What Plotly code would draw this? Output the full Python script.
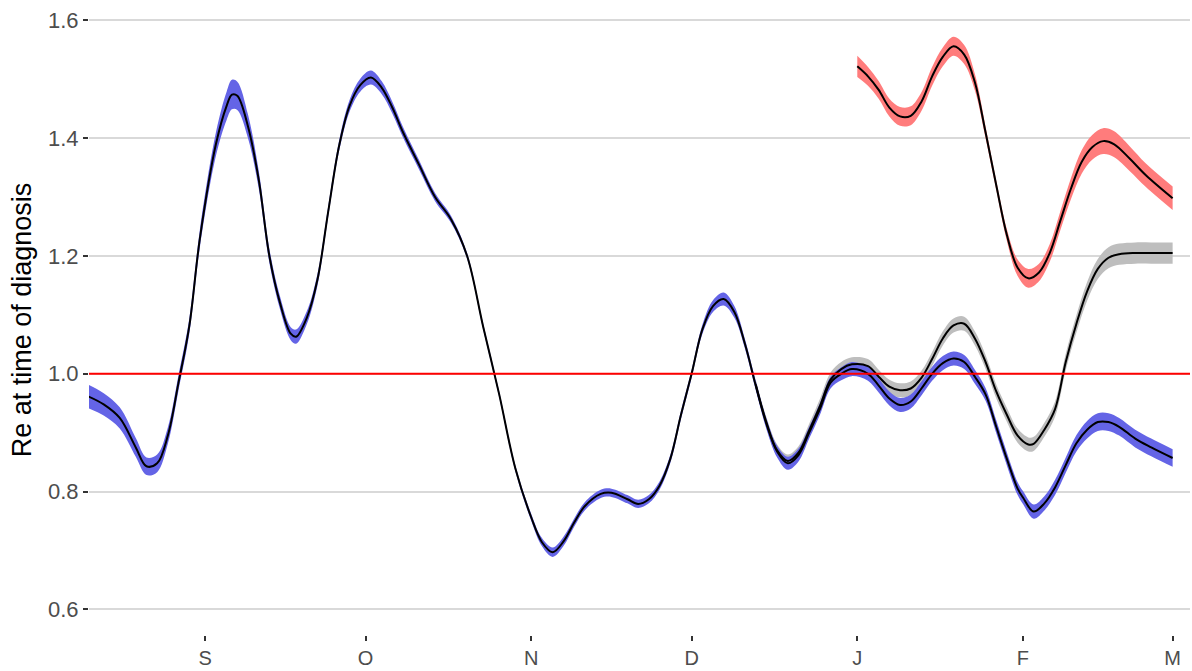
import plotly.graph_objects as go

# Re at time of diagnosis: main series (blue ribbon)
blue_dates = [
    "2020-08-10", "2020-08-13", "2020-08-16", "2020-08-19", "2020-08-21", "2020-08-23",
    "2020-08-25", "2020-08-27", "2020-08-29", "2020-08-31", "2020-09-03", "2020-09-05",
    "2020-09-06", "2020-09-07", "2020-09-09", "2020-09-11", "2020-09-13", "2020-09-15",
    "2020-09-17", "2020-09-18", "2020-09-20", "2020-09-22", "2020-09-24", "2020-09-26",
    "2020-09-28", "2020-09-30", "2020-10-02", "2020-10-04", "2020-10-06", "2020-10-08",
    "2020-10-11", "2020-10-14", "2020-10-17", "2020-10-20", "2020-10-23", "2020-10-26",
    "2020-10-29", "2020-11-01", "2020-11-03", "2020-11-05", "2020-11-07", "2020-11-09",
    "2020-11-11", "2020-11-14", "2020-11-16", "2020-11-19", "2020-11-21", "2020-11-23",
    "2020-11-25", "2020-11-27", "2020-11-29", "2020-12-01", "2020-12-03", "2020-12-05",
    "2020-12-07", "2020-12-09", "2020-12-11", "2020-12-13", "2020-12-15", "2020-12-17",
    "2020-12-19", "2020-12-21", "2020-12-23", "2020-12-25", "2020-12-27", "2020-12-29",
    "2020-12-31", "2021-01-03", "2021-01-05", "2021-01-07", "2021-01-09", "2021-01-11",
    "2021-01-13", "2021-01-15", "2021-01-17", "2021-01-19", "2021-01-21", "2021-01-23",
    "2021-01-25", "2021-01-27", "2021-01-29", "2021-01-31", "2021-02-01", "2021-02-03",
    "2021-02-05", "2021-02-07", "2021-02-09", "2021-02-11", "2021-02-13", "2021-02-15",
    "2021-02-17", "2021-02-19", "2021-02-22", "2021-02-25", "2021-03-01",
]
blue_re = [
    0.962, 0.948, 0.925, 0.875, 0.843, 0.848,
    0.895, 0.985, 1.080, 1.230, 1.390, 1.455,
    1.474, 1.472, 1.420, 1.330, 1.200, 1.120,
    1.068, 1.063, 1.095, 1.160, 1.275, 1.385,
    1.455, 1.490, 1.503, 1.486, 1.452, 1.410,
    1.355, 1.300, 1.262, 1.200, 1.080, 0.965,
    0.840, 0.756, 0.714, 0.697, 0.715, 0.747,
    0.775, 0.796, 0.798, 0.787, 0.779, 0.787,
    0.810, 0.855, 0.930, 1.000, 1.075, 1.115,
    1.127, 1.105, 1.050, 0.980, 0.915, 0.868,
    0.848, 0.862, 0.900, 0.940, 0.985, 1.000,
    1.008, 1.000, 0.980, 0.958, 0.947, 0.953,
    0.975, 1.000, 1.018, 1.026, 1.020, 0.995,
    0.965, 0.910, 0.855, 0.805, 0.790, 0.766,
    0.780, 0.807, 0.845, 0.882, 0.905, 0.918,
    0.918, 0.910, 0.890, 0.875, 0.857,
]
blue_half = [
    0.020, 0.019, 0.018, 0.016, 0.015, 0.015,
    0.014, 0.013, 0.013, 0.015, 0.020, 0.024,
    0.025, 0.024, 0.020, 0.015, 0.012, 0.011,
    0.011, 0.012, 0.011, 0.010, 0.009, 0.009,
    0.010, 0.011, 0.012, 0.011, 0.010, 0.009,
    0.008, 0.007, 0.006, 0.005, 0.005, 0.005,
    0.005, 0.006, 0.007, 0.008, 0.008, 0.007,
    0.007, 0.007, 0.007, 0.007, 0.007, 0.007,
    0.007, 0.007, 0.007, 0.007, 0.008, 0.010,
    0.011, 0.010, 0.008, 0.008, 0.009, 0.010,
    0.011, 0.011, 0.010, 0.010, 0.010, 0.011,
    0.012, 0.012, 0.012, 0.012, 0.012, 0.012,
    0.012, 0.012, 0.012, 0.012, 0.012, 0.012,
    0.011, 0.011, 0.011, 0.011, 0.011, 0.012,
    0.012, 0.013, 0.013, 0.014, 0.015, 0.015,
    0.015, 0.015, 0.015, 0.015, 0.015,
]

# Second series diverging from late December (grey ribbon)
grey_dates = [
    "2020-12-13", "2020-12-15", "2020-12-17", "2020-12-19", "2020-12-21", "2020-12-23",
    "2020-12-25", "2020-12-27", "2020-12-29", "2020-12-31", "2021-01-03", "2021-01-05",
    "2021-01-07", "2021-01-09", "2021-01-11", "2021-01-13", "2021-01-15", "2021-01-17",
    "2021-01-19", "2021-01-21", "2021-01-23", "2021-01-25", "2021-01-27", "2021-01-29",
    "2021-01-31", "2021-02-02", "2021-02-03", "2021-02-05", "2021-02-07", "2021-02-09",
    "2021-02-11", "2021-02-13", "2021-02-15", "2021-02-17", "2021-02-19", "2021-02-22",
    "2021-02-25", "2021-03-01",
]
grey_re = [
    0.982, 0.917, 0.870, 0.852, 0.866, 0.904,
    0.945, 0.990, 1.008, 1.016, 1.013, 0.995,
    0.978, 0.972, 0.975, 0.993, 1.025, 1.060,
    1.082, 1.085, 1.060, 1.020, 0.970, 0.930,
    0.895, 0.880, 0.881, 0.905, 0.940, 1.020,
    1.085, 1.140, 1.178, 1.197, 1.203, 1.205,
    1.205, 1.205,
]
grey_half = [
    0.008, 0.009, 0.010, 0.011, 0.011, 0.011,
    0.012, 0.012, 0.012, 0.012, 0.012, 0.012,
    0.012, 0.012, 0.012, 0.012, 0.012, 0.012,
    0.012, 0.012, 0.012, 0.012, 0.012, 0.012,
    0.012, 0.012, 0.012, 0.012, 0.013, 0.014,
    0.015, 0.016, 0.017, 0.018, 0.018, 0.018,
    0.018, 0.018,
]

# Third series from January (red ribbon)
red_dates = [
    "2021-01-01", "2021-01-03", "2021-01-05", "2021-01-07", "2021-01-09", "2021-01-11",
    "2021-01-13", "2021-01-15", "2021-01-17", "2021-01-19", "2021-01-21", "2021-01-23",
    "2021-01-25", "2021-01-27", "2021-01-29", "2021-01-31", "2021-02-02", "2021-02-04",
    "2021-02-06", "2021-02-08", "2021-02-10", "2021-02-12", "2021-02-14", "2021-02-16",
    "2021-02-18", "2021-02-21", "2021-02-24", "2021-03-01",
]
red_re = [
    1.522, 1.505, 1.482, 1.452, 1.437, 1.438,
    1.462, 1.505, 1.538, 1.556, 1.542, 1.495,
    1.410, 1.320, 1.235, 1.180, 1.162, 1.172,
    1.205, 1.260, 1.315, 1.360, 1.385, 1.395,
    1.390, 1.365, 1.337, 1.298,
]
red_half = [
    0.018, 0.016, 0.015, 0.015, 0.016, 0.016,
    0.016, 0.016, 0.016, 0.016, 0.016, 0.014,
    0.010, 0.008, 0.010, 0.014, 0.016, 0.015,
    0.015, 0.016, 0.018, 0.020, 0.021, 0.022,
    0.022, 0.021, 0.020, 0.020,
]

month_ticks = ["2020-09-01", "2020-10-01", "2020-11-01", "2020-12-01",
               "2021-01-01", "2021-02-01", "2021-03-01"]
month_labels = ["S", "O", "N", "D", "J", "F", "M"]
y_ticks = [0.6, 0.8, 1.0, 1.2, 1.4, 1.6]
y_labels = ["0.6", "0.8", "1.0", "1.2", "1.4", "1.6"]

fig = go.Figure()


def add_ribbon(dates, centre, half, colour):
    upper = [c + h for c, h in zip(centre, half)]
    lower = [c - h for c, h in zip(centre, half)]
    fig.add_trace(go.Scatter(x=dates, y=upper, mode="lines",
                             line=dict(width=0, shape="spline", color=colour),
                             hoverinfo="skip", showlegend=False))
    fig.add_trace(go.Scatter(x=dates, y=lower, mode="lines", fill="tonexty",
                             fillcolor=colour,
                             line=dict(width=0, shape="spline", color=colour),
                             hoverinfo="skip", showlegend=False))


def add_centre(dates, centre):
    fig.add_trace(go.Scatter(x=dates, y=centre, mode="lines",
                             line=dict(width=2, shape="spline", color="black"),
                             showlegend=False))


add_ribbon(grey_dates, grey_re, grey_half, "#BEBEBE")
add_ribbon(blue_dates, blue_re, blue_half, "#6464E6")
add_ribbon(red_dates, red_re, red_half, "#FF7C7C")
add_centre(grey_dates, grey_re)
add_centre(blue_dates, blue_re)
add_centre(red_dates, red_re)

# Re = 1 threshold
fig.add_hline(y=1.0, line=dict(color="#FF0000", width=2), layer="above")

fig.update_layout(
    width=1192, height=671,
    margin=dict(l=89, r=2, t=5, b=36),
    paper_bgcolor="white", plot_bgcolor="white",
    font=dict(family="Liberation Sans, Arial, sans-serif", color="#4D4D4D"),
    showlegend=False,
)
fig.update_xaxes(
    type="date",
    range=["2020-08-10 06:00", "2021-03-04 06:00"],
    tickvals=month_ticks, ticktext=month_labels,
    ticks="outside", ticklen=5, tickwidth=1.5, tickcolor="#333333",
    tickfont=dict(size=20, color="#4D4D4D"),
    showgrid=False, zeroline=False, showline=False,
    automargin=False,
)
fig.update_yaxes(
    range=[0.5565, 1.6261],
    tickvals=y_ticks, ticktext=y_labels,
    ticks="outside", ticklen=5, tickwidth=1.5, tickcolor="#333333",
    tickfont=dict(size=22, color="#4D4D4D"),
    showgrid=True, gridcolor="#D9D9D9", gridwidth=2,
    zeroline=False, showline=False, automargin=False,
    title=dict(text="Re at time of diagnosis", standoff=8,
               font=dict(size=27, color="black")),
)

fig.write_html("out.html")
